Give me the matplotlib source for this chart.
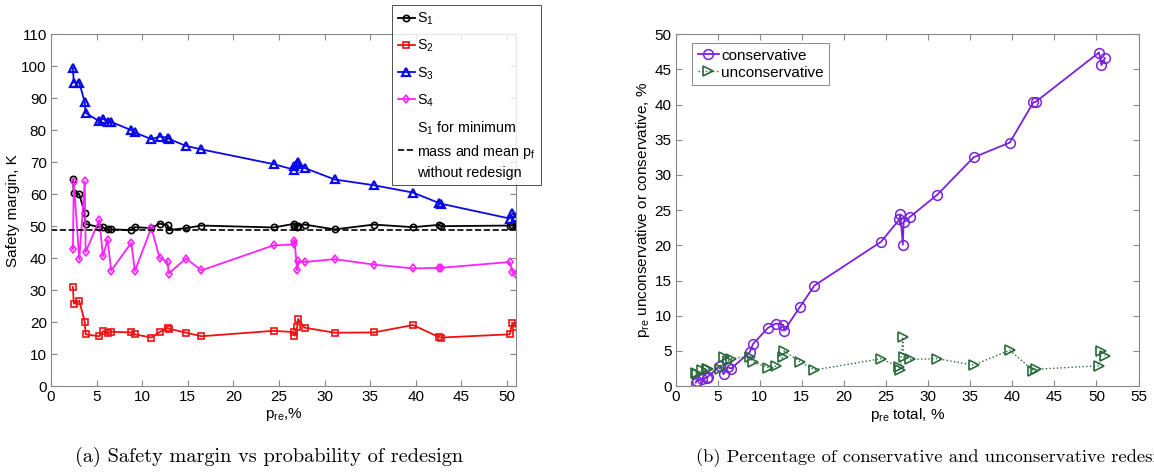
import matplotlib
matplotlib.use("Agg")
import matplotlib.pyplot as plt

plt.rcParams['font.family'] = ['Liberation Sans', 'DejaVu Sans']
plt.rcParams['mathtext.fontset'] = 'custom'
plt.rcParams['mathtext.rm'] = 'Liberation Sans'
plt.rcParams['mathtext.it'] = 'Liberation Sans:italic'

# probability of redesign (total), %
p_re = [2.4, 2.5, 3.1, 3.7, 3.8, 5.3, 5.7, 6.2, 6.6, 8.8, 9.2, 11.0, 11.9, 12.8, 12.9,
        14.8, 16.5, 24.4, 26.6, 26.7, 27.0, 27.1, 27.8, 31.1, 35.4, 39.7, 42.5, 42.8,
        50.3, 50.6, 51.0]

s1 = [64.6, 60.5, 60.0, 54.0, 50.7, 49.7, 49.6, 49.0, 49.0, 48.8, 49.7, 49.4, 50.8, 50.3, 48.8,
      49.4, 50.2, 49.6, 50.7, 50.1, 49.9, 50.2, 50.5, 49.0, 50.5, 49.7, 50.4, 50.0,
      50.2, 50.4, 50.3]
s2 = [31.0, 25.8, 26.7, 20.1, 16.2, 15.6, 17.2, 16.5, 17.0, 16.8, 16.2, 15.2, 16.9, 18.2, 18.0,
      16.7, 15.6, 17.3, 16.9, 15.8, 18.6, 21.0, 18.3, 16.7, 16.8, 19.1, 15.4, 15.2,
      16.2, 19.8, 18.5]
s3 = [99.5, 94.9, 94.9, 88.7, 85.4, 82.8, 83.6, 82.6, 82.6, 80.0, 79.3, 77.2, 78.0, 77.7, 77.3,
      75.1, 74.0, 69.4, 67.7, 68.7, 69.5, 70.1, 68.2, 64.6, 62.8, 60.5, 57.3, 57.0,
      52.4, 54.0, 52.9]
s4 = [42.9, 63.8, 39.6, 64.0, 41.9, 52.0, 40.6, 45.8, 36.1, 44.8, 36.0, 49.5, 40.2, 38.8, 35.2,
      39.9, 36.2, 44.0, 44.3, 45.5, 36.2, 39.1, 38.8, 39.7, 38.0, 36.8, 37.0, 37.0,
      38.8, 35.7, 35.0]
s1_ref = 48.8

conservative = [0.5, 0.8, 1.0, 1.2, 1.3, 2.9, 1.7, 2.7, 2.5, 4.8, 6.0, 8.3, 8.9, 8.7, 7.9,
                11.3, 14.3, 20.5, 23.7, 24.4, 20.1, 23.3, 24.0, 27.2, 32.5, 34.6, 40.3, 40.4,
                47.4, 45.6, 46.6]
unconservative = [1.9, 1.7, 2.3, 2.5, 2.5, 2.5, 4.1, 3.6, 3.9, 4.2, 3.45, 2.65, 2.85, 4.2, 5.0,
                  3.45, 2.3, 3.9, 2.75, 2.3, 7.0, 4.1, 3.8, 3.9, 3.0, 5.1, 2.2, 2.4,
                  2.9, 5.0, 4.3]

fig = plt.figure(figsize=(11.54, 4.75), dpi=100)
ax1 = fig.add_axes([0.0442, 0.187, 0.403, 0.741])
ax2 = fig.add_axes([0.5854, 0.187, 0.4012, 0.741])

mk = dict(markerfacecolor='none', markersize=4.5, markeredgewidth=1.2, linewidth=1.3)
ax1.plot(p_re, s1, '-o', color='black', label='S$_1$', **mk)
ax1.plot(p_re, s2, '-s', color='#ee1111', label='S$_2$', **mk)
ax1.plot(p_re, s3, '-^', color='#0a0ae6', label='S$_3$',
         markerfacecolor='none', markersize=5.5, markeredgewidth=1.6, linewidth=1.3)
ax1.plot(p_re, s4, '-d', color='#ff22ff', label='S$_4$', **mk)
ax1.axhline(s1_ref, color='black', linestyle='--', linewidth=1.2,
            label='S$_1$ for minimum\nmass and mean p$_\\mathrm{f}$\nwithout redesign')

ax1.set_xlim(0, 51)
ax1.set_ylim(0, 110)
ax1.set_xticks(range(0, 51, 5))
ax1.set_yticks(range(0, 111, 10))
ax1.set_xlabel('p$_\\mathrm{re}$,%', fontsize=11, labelpad=1)
ax1.set_ylabel('Safety margin, K', fontsize=11, labelpad=1)

leg1 = ax1.legend(loc='upper left', bbox_to_anchor=(0.3395, 0.989), bbox_transform=fig.transFigure,
                  fontsize=10.3, frameon=True, fancybox=False, edgecolor='black',
                  handlelength=1.2, handletextpad=0.15, labelspacing=0.75, borderpad=0.4,
                  borderaxespad=0)
leg1.get_frame().set_linewidth(0.6)
for t in leg1.get_texts():
    t.set_linespacing(1.45)

ax2.plot(p_re, conservative, '-o', color='#7a22dd', label='conservative',
         markerfacecolor='none', markersize=7, markeredgewidth=1.1, linewidth=1.3)
ax2.plot(p_re, unconservative, ':>', color='#2a6a3c', label='unconservative',
         markerfacecolor='none', markersize=6.5, markeredgewidth=1.2, linewidth=1.0)
ax2.set_xlim(0, 55)
ax2.set_ylim(0, 50)
ax2.set_xticks(range(0, 56, 5))
ax2.set_yticks(range(0, 51, 5))
ax2.set_xlabel('p$_\\mathrm{re}$ total, %', fontsize=11, labelpad=1)
ax2.set_ylabel('p$_\\mathrm{re}$ unconservative or conservative, %', fontsize=11, labelpad=2)
leg2 = ax2.legend(loc='upper left', bbox_to_anchor=(0.036, 0.974), fontsize=11, frameon=True,
                  fancybox=False, edgecolor='#555555', handlelength=1.4, handletextpad=0.15,
                  labelspacing=0.2, borderpad=0.35, borderaxespad=0)
leg2.get_frame().set_linewidth(0.6)

for ax in (ax1, ax2):
    ax.tick_params(direction='in', top=True, right=True, labelsize=11, length=4,
                   color='#888888', pad=3)
    for sp in ax.spines.values():
        sp.set_color('#888888')
        sp.set_linewidth(0.8)

fig.text(0.233, 0.027, '(a) Safety margin vs probability of redesign',
         fontfamily='cmr10', fontsize=14.6, ha='center', va='baseline')
fig.text(0.603, 0.027, '(b) Percentage of conservative and unconservative redesigns',
         fontfamily='cmr10', fontsize=13.4, ha='left', va='baseline')

fig.savefig('out.png', dpi=100)
